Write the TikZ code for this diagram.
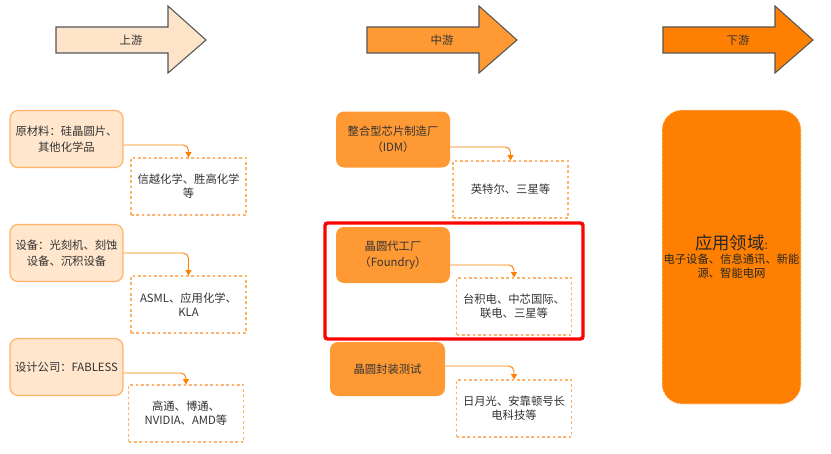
\documentclass[tikz,border=0pt]{standalone}
\usepackage{fontspec}
\setmainfont{Noto Sans CJK SC}
\usetikzlibrary{arrows.meta}

\definecolor{peach}{HTML}{FFE6CC}
\definecolor{peachline}{HTML}{FFB366}
\definecolor{arrowpeach}{HTML}{FDE3C8}
\definecolor{midorange}{HTML}{FF9933}
\definecolor{deeporange}{HTML}{FF8000}
\definecolor{textgray}{HTML}{333333}
\definecolor{arrowline}{HTML}{555555}

\tikzset{
	upbox/.style={shape=rectangle, rounded corners=6pt, draw=peachline, line width=0.9pt, fill=peach,
		minimum width=84.75pt, minimum height=42.75pt, inner sep=0pt, align=center,
		text=textgray, font=\fontsize{8.5}{12}\selectfont},
	midbox/.style={shape=rectangle, rounded corners=6pt, fill=midorange,
		minimum width=85.5pt, minimum height=42pt, inner sep=0pt, align=center,
		text=textgray, font=\fontsize{8.5}{12}\selectfont},
	tagbox/.style={shape=rectangle, draw=peachline, line width=0.8pt, dash pattern=on 2pt off 2pt, fill=white,
		minimum width=86.25pt, minimum height=42.75pt, inner sep=0pt, align=center,
		text=textgray, font=\fontsize{8.5}{10.5}\selectfont},
	link/.style={->, draw=deeporange, line width=0.7pt, rounded corners=4pt, >={Triangle[width=4.5pt,length=4pt]}},
	flowarrow/.style={draw=arrowline, line width=0.8pt},
	steplabel/.style={text=textgray, font=\fontsize{8.5}{10}\selectfont},
}

\begin{document}
\begin{tikzpicture}[x=0.75pt, y=-0.75pt]
	\useasboundingbox (0,0) rectangle (831,453);
	
	% stage arrows
	\draw[flowarrow, fill=arrowpeach] (56,27) -- (168,27) -- (168,6) -- (206,40) -- (168,73) -- (168,53) -- (56,53) -- cycle;
	\node[steplabel] (up) at (131,40) {上游};
	
	\draw[flowarrow, fill=midorange] (367,27) -- (479,27) -- (479,6) -- (517,40) -- (479,73) -- (479,53) -- (367,53) -- cycle;
	\node[steplabel] (mid) at (442,40) {中游};
	
	\draw[flowarrow, fill=deeporange] (663,27) -- (775,27) -- (775,6) -- (813,40) -- (775,73) -- (775,53) -- (663,53) -- cycle;
	\node[steplabel] (down) at (738,40) {下游};
	
	
	% upstream
	\node[upbox] (raw) at (66.5, 139)   {原材料：硅晶圆片、\\其他化学品};
	\node[upbox] (equip) at (66.5, 253)   {设备：光刻机、刻蚀\\设备、沉积设备};
	\node[upbox] (design) at (66.5, 367)   {设计公司：FABLESS};
	
	\node[tagbox] (rawco) at (188.5, 186.5)   {信越化学、胜高化学\\等};
	\node[tagbox] (equipco) at (188.5, 304.5)   {ASML、应用化学、\\KLA};
	\node[tagbox] (designco) at (186, 413.5)   {高通、博通、\\NVIDIA、AMD等};
	
	
	% midstream
	\node[shape=rectangle, draw=red, line width=2.6pt, rounded corners=2pt, minimum width=193.5pt, minimum height=87pt] (focus) at (454, 281) {};
	
	\node[midbox] (idm) at (393, 139.5)   {整合型芯片制造厂\\（IDM）};
	\node[midbox] (foundry) at (393, 255)   {晶圆代工厂\\（Foundry）};
	\node[midbox, minimum width=86.25pt, minimum height=40.5pt] (pack) at (387.5, 369)   {晶圆封装测试};
	
	\node[tagbox] (idmco) at (510.5, 189.5)   {英特尔、三星等};
	\node[tagbox] (foundryco) at (514, 306.5)   {台积电、中芯国际、\\联电、三星等};
	\node[tagbox] (packco) at (514, 408.5)   {日月光、安靠顿号长\\电科技等};
	
	
	% downstream
	\node[shape=rectangle, rounded corners=15pt, fill=deeporange, draw=peach, dash pattern=on 2pt off 1pt,
		minimum width=104.25pt, minimum height=220.5pt, inner sep=0pt, align=center, text=black!85,
		font=\fontsize{8.5}{10.5}\selectfont] (app) at (731.5, 257)
		{{\fontsize{13}{15}\selectfont 应用领域}:\\电子设备、信息通讯、新能\\源、智能电网};
	
	
	\path[link] ([yshift=-4.5pt]raw.east) -| (rawco.north);
	\path[link] (equip.east) -| (equipco.north);
	\path[link] ([yshift=-4.5pt]design.east) -| (designco.north);
	
	\path[link] ([yshift=-5.6pt]idm.east) -| (idmco.north);
	\path[link] ([yshift=-7.5pt]foundry.east) -| (foundryco.north);
	\path[link] ([yshift=2.25pt]pack.east) -| (packco.north);
	
\end{tikzpicture}
\end{document}
